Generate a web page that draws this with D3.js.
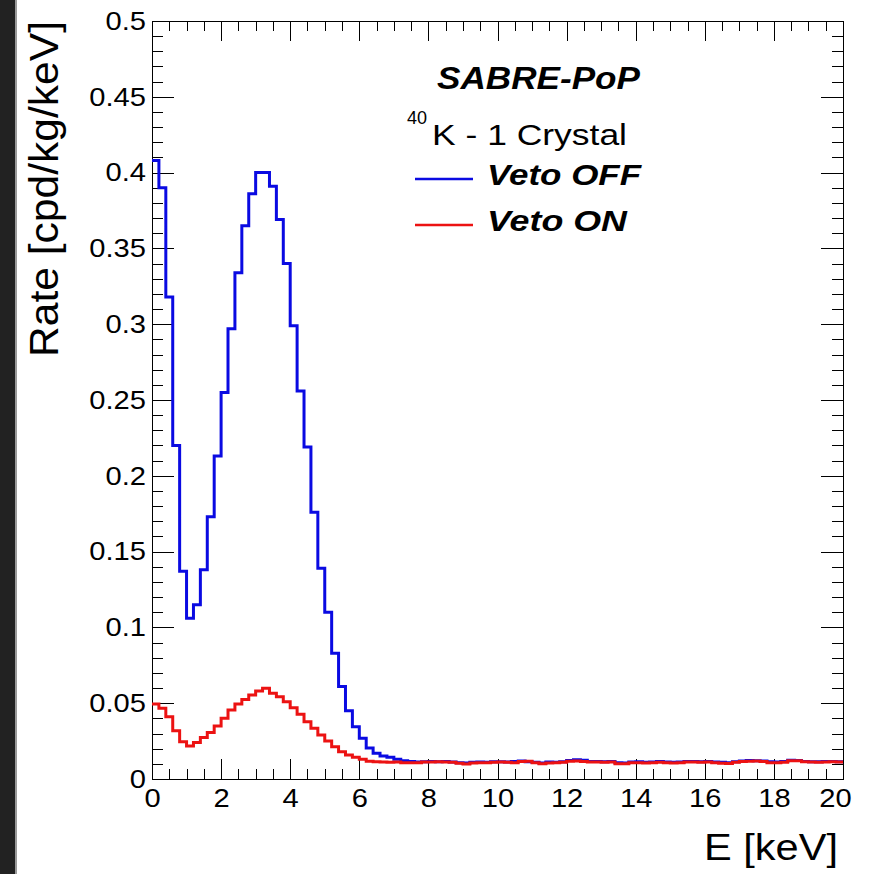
<!DOCTYPE html>
<html>
<head>
<meta charset="utf-8">
<script src="https://cdn.jsdelivr.net/npm/d3@7/dist/d3.min.js"></script>
<style>
   body { margin: 0; background: #fff; }
   svg text { font-family: "Liberation Sans", Arial, Helvetica, sans-serif; fill: #000; }
</style>
</head>
<body>
<svg id="chart" width="871" height="874"></svg>
<script>
// histogram binning: 100 bins of 0.2 keV from 0 to 20 keV
const binWidth = 0.2;

// Veto OFF (blue), rate per bin in cpd/kg/keV
const vetoOff = [
   0.408, 0.390, 0.318, 0.220, 0.137, 0.106, 0.115, 0.138, 0.173, 0.213,
   0.255, 0.297, 0.334, 0.365, 0.386, 0.400, 0.400, 0.391, 0.369, 0.340,
   0.299, 0.256, 0.219, 0.176, 0.139, 0.110, 0.083, 0.061, 0.045, 0.0345,
   0.0268, 0.0205, 0.0170, 0.0152, 0.0143, 0.0130, 0.0120, 0.0115, 0.0112, 0.0114,
   0.0115, 0.0113, 0.0116, 0.0112, 0.0108, 0.0106, 0.0110, 0.0112, 0.0111, 0.0114,
   0.0113, 0.0112, 0.0115, 0.0118, 0.0114, 0.0110, 0.0106, 0.0112, 0.0111, 0.0114,
   0.0122, 0.0127, 0.0124, 0.0116, 0.0115, 0.0114, 0.0116, 0.0108, 0.0106, 0.0112,
   0.0113, 0.0110, 0.0112, 0.0115, 0.0112, 0.0110, 0.0112, 0.0115, 0.0116, 0.0113,
   0.0115, 0.0112, 0.0110, 0.0108, 0.0114, 0.0118, 0.0122, 0.0121, 0.0118, 0.0113,
   0.0112, 0.0115, 0.0124, 0.0122, 0.0116, 0.0114, 0.0113, 0.0115, 0.0116, 0.0114
];

// Veto ON (red)
const vetoOn = [
   0.0495, 0.0466, 0.0411, 0.0319, 0.0246, 0.0218, 0.0240, 0.0273, 0.0306, 0.0350,
   0.0400, 0.0455, 0.0495, 0.0525, 0.0554, 0.0580, 0.0598, 0.0565, 0.0543, 0.0510,
   0.0470, 0.0427, 0.0378, 0.0334, 0.0290, 0.0251, 0.0213, 0.0180, 0.0158, 0.0143,
   0.0130, 0.0117, 0.0113, 0.0112, 0.0110, 0.0112, 0.0108, 0.0108, 0.0108, 0.0112,
   0.0112, 0.0114, 0.0112, 0.0110, 0.0104, 0.0099, 0.0106, 0.0108, 0.0108, 0.0110,
   0.0112, 0.0110, 0.0108, 0.0116, 0.0117, 0.0108, 0.0100, 0.0106, 0.0108, 0.0110,
   0.0117, 0.0119, 0.0116, 0.0112, 0.0112, 0.0110, 0.0112, 0.0101, 0.0100, 0.0108,
   0.0108, 0.0106, 0.0108, 0.0110, 0.0108, 0.0106, 0.0108, 0.0112, 0.0112, 0.0110,
   0.0112, 0.0107, 0.0104, 0.0103, 0.0110, 0.0116, 0.0117, 0.0118, 0.0116, 0.0108,
   0.0108, 0.0110, 0.0121, 0.0120, 0.0113, 0.0112, 0.0110, 0.0112, 0.0113, 0.0112
];

const xMajorTicks = [0, 2, 4, 6, 8, 10, 12, 14, 16, 18, 20];
const xTickLabels = ["0", "2", "4", "6", "8", "10", "12", "14", "16", "18", "20"];
const yMajorTicks = [0, 0.05, 0.1, 0.15, 0.2, 0.25, 0.3, 0.35, 0.4, 0.45, 0.5];
const yTickLabels = ["0", "0.05", "0.1", "0.15", "0.2", "0.25", "0.3", "0.35", "0.4", "0.45", "0.5"];

const series = [
   {name: "Veto OFF", values: vetoOff, color: "#0a0ae2"},
   {name: "Veto ON", values: vetoOn, color: "#ec1212"}
];

const svg = d3.select("#chart");

// dark strip on the left of the screenshot
svg.append("rect").attr("x", 0).attr("y", 0).attr("width", 15).attr("height", 874).attr("fill", "#222");
svg.append("rect").attr("x", 15).attr("y", 0).attr("width", 2).attr("height", 874).attr("fill", "#9a9a9a");

const x = d3.scaleLinear().domain([0, 20]).range([152, 843]);
const y = d3.scaleLinear().domain([0, 0.5]).range([779, 21]);

const minorX = d3.range(0, 20.001, 0.5).filter(d => Math.abs(d / 2 - Math.round(d / 2)) > 1e-6);
const minorY = d3.range(0, 50.5, 1).map(d => d / 100).filter(d => Math.round(d * 100) % 5 != 0);

function tickStyle(g) {
   g.select(".domain").remove();
   g.selectAll(".tick line").attr("stroke", "#000").attr("stroke-width", 1).attr("shape-rendering", "crispEdges");
   g.selectAll(".tick text").style("font-size", "26px");
}

// minor ticks
svg.append("g").attr("transform", `translate(0,${y(0)})`)
   .call(d3.axisBottom(x).tickValues(minorX).tickSize(-10).tickFormat(""))
   .call(tickStyle);
svg.append("g").attr("transform", `translate(0,${y(0.5)})`)
   .call(d3.axisTop(x).tickValues(minorX).tickSize(-10).tickFormat(""))
   .call(tickStyle);
svg.append("g").attr("transform", `translate(${x(0)},0)`)
   .call(d3.axisLeft(y).tickValues(minorY).tickSize(-11).tickFormat(""))
   .call(tickStyle);
svg.append("g").attr("transform", `translate(${x(20)},0)`)
   .call(d3.axisRight(y).tickValues(minorY).tickSize(-11).tickFormat(""))
   .call(tickStyle);

// major ticks + labels
const xAxis = svg.append("g").attr("transform", `translate(0,${y(0)})`)
   .call(d3.axisBottom(x).tickValues(xMajorTicks).tickSize(-20).tickPadding(10)
      .tickFormat((d, i) => xTickLabels[i]))
   .call(tickStyle);
svg.append("g").attr("transform", `translate(0,${y(0.5)})`)
   .call(d3.axisTop(x).tickValues(xMajorTicks).tickSize(-20).tickFormat(""))
   .call(tickStyle);
const yAxis = svg.append("g").attr("transform", `translate(${x(0)},0)`)
   .call(d3.axisLeft(y).tickValues(yMajorTicks).tickSize(-22).tickPadding(6)
      .tickFormat((d, i) => yTickLabels[i]))
   .call(tickStyle);
svg.append("g").attr("transform", `translate(${x(20)},0)`)
   .call(d3.axisRight(y).tickValues(yMajorTicks).tickSize(-22).tickFormat(""))
   .call(tickStyle);

// last x label is pulled in a bit, like ROOT does
xAxis.selectAll(".tick text").filter((d, i) => i == xMajorTicks.length - 1).attr("dx", -8);

// frame
svg.append("rect")
   .attr("x", x(0)).attr("y", y(0.5))
   .attr("width", x(20) - x(0)).attr("height", y(0) - y(0.5))
   .attr("fill", "none").attr("stroke", "#000").attr("stroke-width", 1)
   .attr("shape-rendering", "crispEdges");

// histograms as step lines
const step = d3.line()
   .x(d => x(d[0]))
   .y(d => y(d[1]))
   .curve(d3.curveStepAfter);

series.forEach(function(s) {
   const pts = s.values.map((v, i) => [i * binWidth, v]);
   pts.push([s.values.length * binWidth, s.values[s.values.length - 1]]);
   svg.append("path")
      .datum(pts)
      .attr("d", step)
      .attr("fill", "none")
      .attr("stroke", s.color)
      .attr("stroke-width", 3)
      .attr("stroke-linejoin", "miter");
});

// axis titles
svg.append("text")
   .attr("class", "fit")
   .attr("data-w", 336)
   .attr("transform", "translate(58,21) rotate(-90)")
   .attr("text-anchor", "end")
   .style("font-size", "40px")
   .text("Rate [cpd/kg/keV]");

svg.append("text")
   .attr("class", "fit")
   .attr("data-w", 134)
   .attr("x", 838).attr("y", 860)
   .attr("text-anchor", "end")
   .style("font-size", "36px")
   .text("E [keV]");

// legend
svg.append("text")
   .attr("class", "fit")
   .attr("data-w", 203)
   .attr("x", 437).attr("y", 89)
   .style("font-size", "31px").style("font-weight", "bold").style("font-style", "italic")
   .text("SABRE-PoP");

svg.append("text")
   .attr("x", 407).attr("y", 124)
   .style("font-size", "18px")
   .text("40");
svg.append("text")
   .attr("class", "fit")
   .attr("data-w", 195)
   .attr("x", 432).attr("y", 145)
   .style("font-size", "30px")
   .text("K - 1 Crystal");

const legendRows = [185, 231];
series.forEach(function(s, i) {
   svg.append("line")
      .attr("x1", 415).attr("x2", 473)
      .attr("y1", legendRows[i] - 6).attr("y2", legendRows[i] - 6)
      .attr("stroke", s.color).attr("stroke-width", 2.5);
   svg.append("text")
      .attr("class", "fit")
      .attr("data-w", i == 0 ? 154 : 140)
      .attr("x", 487).attr("y", legendRows[i])
      .style("font-size", "30px").style("font-weight", "bold").style("font-style", "italic")
      .text(s.name);
});

// stretch texts to the widths seen in the picture
svg.selectAll("text.fit").each(function() {
   d3.select(this)
      .attr("textLength", d3.select(this).attr("data-w"))
      .attr("lengthAdjust", "spacingAndGlyphs");
});
svg.selectAll(".tick text").each(function() {
   const len = this.getComputedTextLength();
   if (len > 0) {
      d3.select(this).attr("textLength", len * 1.12).attr("lengthAdjust", "spacingAndGlyphs");
   }
});
</script>
</body>
</html>
